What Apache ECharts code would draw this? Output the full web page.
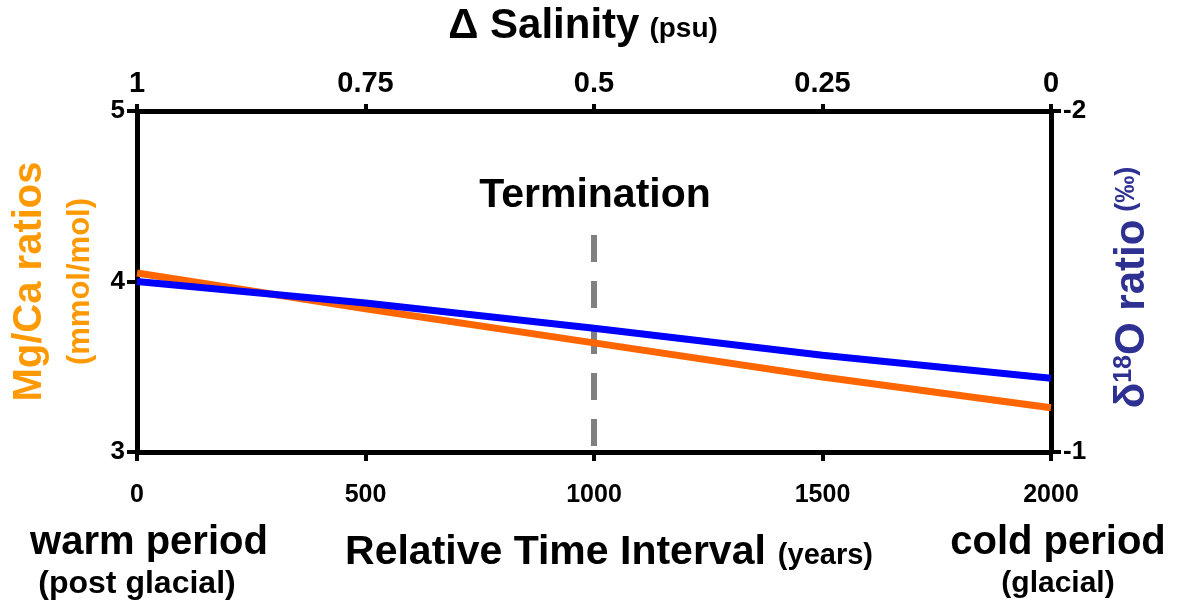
<!DOCTYPE html>
<html>
<head>
<meta charset="utf-8">
<script src="https://cdn.jsdelivr.net/npm/echarts@6/dist/echarts.min.js"></script>
<style>
html,body{margin:0;padding:0;background:#fff;}
#chart{width:1178px;height:605px;}
</style>
</head>
<body>
<div id="chart"></div>
<script>
// ---- data ----
const years = [0, 500, 1000, 1500, 2000];
const mgCa = [4.05, 3.84, 3.64, 3.44, 3.26];          // left axis (mmol/mol)
const d18O = [-1.50, -1.437, -1.363, -1.284, -1.216];  // right axis (‰)
const terminationYear = 1000;
const terminationRange = [4.273, 3.02];                 // on Mg/Ca scale
const salinityTicks = [0, 0.25, 0.5, 0.75, 1];

const FONT = '"Liberation Sans", Arial, sans-serif';
const chart = echarts.init(document.getElementById('chart'), null, {renderer: 'canvas'});

const axisLine = {show: true, lineStyle: {color: '#000', width: 5}};
const lbl = (size) => ({color: '#000', fontFamily: FONT, fontWeight: 'bold', fontSize: size});

const option = {
  animation: false,
  backgroundColor: '#fff',
  grid: {left: 137, right: 127, top: 111, bottom: 153, containLabel: false, outerBoundsMode: 'none'},
  xAxis: [
    {
      type: 'value', min: 0, max: 2000, interval: 500, position: 'bottom',
      axisLine: axisLine,
      axisTick: {show: true, inside: false, length: 9, lineStyle: {color: '#000', width: 4}},
      axisLabel: Object.assign(lbl(25), {margin: 31, formatter: v => String(v)}),
      splitLine: {show: false},
      name: '{a|Relative Time Interval}{b|(years)}',
      nameLocation: 'middle', nameGap: 80,
      nameTextStyle: {
        padding: [0, 0, 0, 30],
        rich: {
          a: {fontFamily: FONT, fontWeight: 'bold', fontSize: 41, color: '#000'},
          b: {fontFamily: FONT, fontWeight: 'bold', fontSize: 29, color: '#000', padding: [6, 0, 0, 12]}
        }
      }
    },
    {
      type: 'value', min: 0, max: 1, interval: 0.25, position: 'top', inverse: true,
      axisLine: axisLine,
      axisTick: {show: true, inside: false, length: 7, lineStyle: {color: '#000', width: 4}},
      axisLabel: Object.assign(lbl(29), {margin: 13, formatter: v => String(v)}),
      splitLine: {show: false},
      name: '{a|Δ Salinity}{b|(psu)}',
      nameLocation: 'middle', nameGap: 64,
      nameTextStyle: {
        padding: [0, 22, 0, 0],
        rich: {
          a: {fontFamily: FONT, fontWeight: 'bold', fontSize: 42, color: '#000'},
          b: {fontFamily: FONT, fontWeight: 'bold', fontSize: 28, color: '#000', padding: [6, 0, 0, 10]}
        }
      }
    }
  ],
  yAxis: [
    {
      type: 'value', min: 3, max: 5, interval: 1, position: 'left',
      axisLine: axisLine,
      axisTick: {show: true, inside: false, length: 10, lineStyle: {color: '#000', width: 4}},
      axisLabel: Object.assign(lbl(26), {margin: 12}),
      splitLine: {show: false},
      name: '{a|Mg/Ca ratios}\n{b|(mmol/mol)}',
      nameLocation: 'middle', nameRotate: 90, nameGap: 32,
      nameTextStyle: {
        align: 'center',
        rich: {
          a: {fontFamily: FONT, fontWeight: 'bold', fontSize: 40, color: '#FF9900', lineHeight: 50, align: 'center'},
          b: {fontFamily: FONT, fontWeight: 'bold', fontSize: 31, color: '#FF9900', lineHeight: 50, align: 'center'}
        }
      }
    },
    {
      type: 'value', min: -2, max: -1, interval: 1, position: 'right', inverse: true,
      axisLine: axisLine,
      axisTick: {show: true, inside: false, length: 10, lineStyle: {color: '#000', width: 4}},
      axisLabel: Object.assign(lbl(26), {margin: 12}),
      splitLine: {show: false},
      name: '{a|δ}{s|18}{a|O ratio}{b|(‰)}',
      nameLocation: 'middle', nameRotate: 90, nameGap: 60,
      nameTextStyle: {
        padding: [0, 12, 0, 0],
        rich: {
          a: {fontFamily: FONT, fontWeight: 'bold', fontSize: 42, color: '#2E3192'},
          s: {fontFamily: FONT, fontWeight: 'bold', fontSize: 25, color: '#2E3192', padding: [0, 0, 16, 0]},
          b: {fontFamily: FONT, fontWeight: 'bold', fontSize: 27, color: '#2E3192', padding: [0, 0, 10, 8]}
        }
      }
    },
    {
      // inner half of the crossing ticks on the right axis
      type: 'value', min: -2, max: -1, interval: 1, position: 'right', inverse: true,
      axisLine: {show: false},
      axisTick: {show: true, inside: true, length: 10, lineStyle: {color: '#000', width: 4}},
      axisLabel: {show: false},
      splitLine: {show: false}
    }
  ],
  graphic: [
    {type: 'text', x: 595, y: 196,
     style: {text: 'Termination', fill: '#000', font: 'bold 41px ' + FONT, align: 'center', verticalAlign: 'middle'}},
    {type: 'text', x: 149, y: 543,
     style: {text: 'warm period', fill: '#000', font: 'bold 40px ' + FONT, align: 'center', verticalAlign: 'middle'}},
    {type: 'text', x: 137, y: 584,
     style: {text: '(post glacial)', fill: '#000', font: 'bold 32px ' + FONT, align: 'center', verticalAlign: 'middle'}},
    {type: 'text', x: 1058, y: 543,
     style: {text: 'cold period', fill: '#000', font: 'bold 40px ' + FONT, align: 'center', verticalAlign: 'middle'}},
    {type: 'text', x: 1058, y: 584,
     style: {text: '(glacial)', fill: '#000', font: 'bold 30px ' + FONT, align: 'center', verticalAlign: 'middle'}}
  ],
  series: [
    {
      name: 'Termination', type: 'line', xAxisIndex: 0, yAxisIndex: 0,
      data: terminationRange.map(v => [terminationYear, v]),
      symbol: 'none', silent: true,
      lineStyle: {color: '#808080', width: 6, type: [27, 19], cap: 'butt'},
      z: 1
    },
    {
      name: 'Mg/Ca', type: 'line', xAxisIndex: 0, yAxisIndex: 0,
      data: years.map((y, i) => [y, mgCa[i]]),
      symbol: 'none',
      lineStyle: {color: '#FF6600', width: 7},
      z: 2
    },
    {
      name: 'd18O', type: 'line', xAxisIndex: 0, yAxisIndex: 1,
      data: years.map((y, i) => [y, d18O[i]]),
      symbol: 'none',
      lineStyle: {color: '#0000FF', width: 7},
      z: 3
    }
  ]
};
chart.setOption(option);
</script>
</body>
</html>
